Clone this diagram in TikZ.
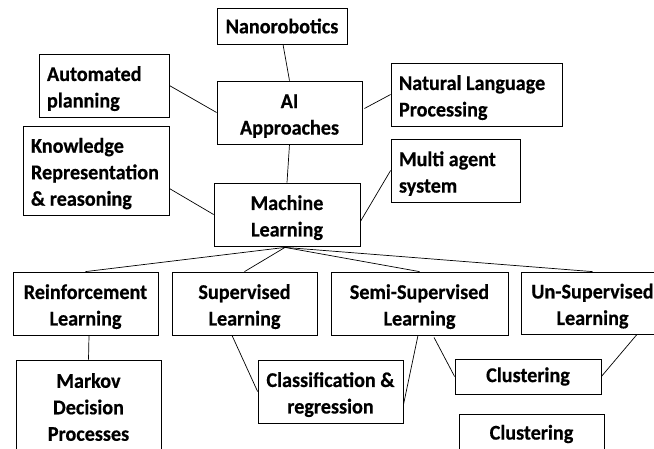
\documentclass[tikz,border=0pt]{standalone}
\usepackage{fontspec}
\setmainfont{Carlito}[FakeStretch=0.96, BoldFeatures={FakeBold=0.5}]
\begin{document}
\begin{tikzpicture}[x=1pt,y=-1pt,
  box/.style={draw=black, line width=0.8pt, inner xsep=4pt, inner ysep=0pt,
    font=\fontsize{21}{26.5}\selectfont\bfseries},
  lower/.style={execute at begin node={\rule{0pt}{21pt}}},
  lbox/.style={box, align=flush left, lower},
  cbox/.style={box, align=flush center, lower},
  sbox/.style={box, align=flush center},
  link/.style={draw=black, line width=0.7pt}]
\useasboundingbox (0,0) rectangle (654,448);
\clip (0,0) rectangle (654,448);
\fill[white] (0,0) rectangle (654,448);
% top level
\node[sbox, text width=122pt, minimum height=36pt] (nano) at (282,26) {Nanorobotics};
\node[lbox, inner xsep=8pt, text width=114pt, minimum height=63pt] (auto) at (104,85.5) {Automated\\planning};
\node[cbox, text width=137pt, minimum height=63pt] (ai) at (289.5,112.5) {AI\\Approaches};
\node[lbox, inner xsep=8pt, text width=130pt, minimum height=89pt] (kr) at (96,170.5) {Knowledge\\Representation\\\& reasoning};
\node[cbox, text width=138pt, minimum height=63pt] (ml) at (287,214.5) {Machine\\Learning};
\node[lbox, inner xsep=8pt, text width=155pt, minimum height=63pt] (nlp) at (476.5,94.5) {Natural Language\\Processing};
\node[lbox, inner xsep=8pt, text width=113pt, minimum height=63pt] (mas) at (455.5,170.5) {Multi agent\\system};
% learning types
\node[cbox, text width=137pt, minimum height=63pt] (rl) at (85.5,303.5) {Reinforcement\\Learning};
\node[cbox, text width=137pt, minimum height=63pt] (sl) at (244.5,303.5) {Supervised\\Learning};
\node[cbox, text width=169pt, minimum height=63pt] (ssl) at (419.5,303.5) {Semi-Supervised\\Learning};
\node[cbox, text width=135pt, minimum height=62pt] (usl) at (592.5,303) {Un-Supervised\\Learning};
% leaves
\node[sbox, text width=137pt, minimum height=94pt] (mdp) at (88.5,407) {Markov\\Decision\\Processes};
\node[cbox, text width=137pt, minimum height=63pt] (cls) at (330.5,391.5) {Classification \&\\regression};
\node[sbox, text width=138pt, minimum height=35pt] (clu1) at (528,376.5) {Clustering};
\node[sbox, text width=137pt, minimum height=40pt] (clu2) at (531.5,434) {Clustering};
% connectors
\draw[link] ([xshift=1pt]nano.south) -- (ai.north);
\draw[link] (auto.east) -- (ai.west);
\draw[link] (ai.south) -- (ml.north);
\draw[link] ([yshift=-18pt]kr.east) -- (ml.west);
\draw[link] ([xshift=2pt,yshift=4pt]ai.east) -- (nlp.west);
\draw[link] ([yshift=-7pt]ml.east) -- (mas.west);
\coordinate (mlb) at ([xshift=-2pt,yshift=-1pt]ml.south);
\draw[link] (mlb) -- (rl.north);
\draw[link] (mlb) -- (sl.north);
\draw[link] (mlb) -- (ssl.north);
\draw[link] (mlb) -- (usl.north);
\draw[link] ([xshift=3.5pt]rl.south) -- (mdp.north);
\draw[link] ([xshift=-12.5pt]sl.south) -- (cls.west);
\draw[link] ([xshift=-1.5pt]ssl.south) -- ([yshift=-13.5pt]cls.east);
\draw[link] ([xshift=14.5pt,yshift=-2pt]ssl.south) -- (clu1.west);
\draw[link] ([xshift=44.5pt]usl.south) -- (clu1.east);
\end{tikzpicture}
\end{document}
